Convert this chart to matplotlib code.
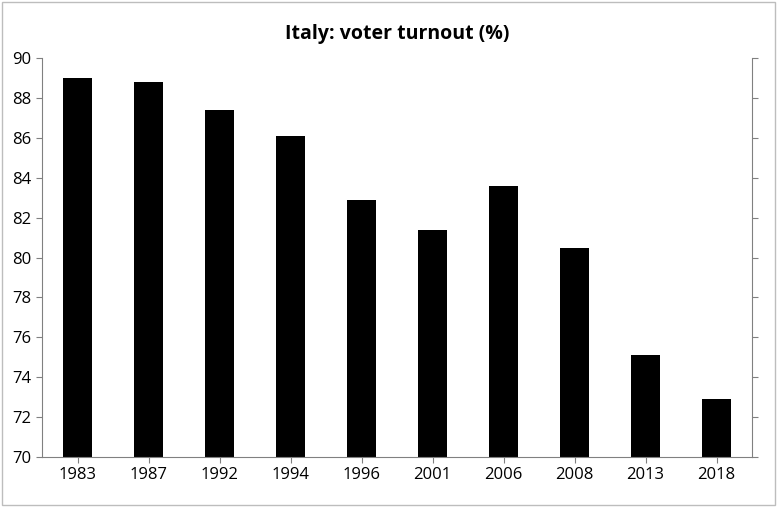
import matplotlib
matplotlib.use("Agg")
import matplotlib.pyplot as plt

years = ["1983", "1987", "1992", "1994", "1996", "2001", "2006", "2008", "2013", "2018"]
turnout = [89.0, 88.8, 87.4, 86.1, 82.9, 81.4, 83.6, 80.5, 75.1, 72.9]
yticks = [70, 72, 74, 76, 78, 80, 82, 84, 86, 88, 90]

plt.rcParams["font.family"] = "Open Sans"
fig = plt.figure(figsize=(7.78, 5.07), dpi=100)
ax = fig.add_axes([42/778, 50/507, 710/778, 399/507])
x = range(len(years))
ax.bar(x, turnout, width=0.42, color="black")
ax.set_xlim(-0.5, len(years) - 0.5)
ax.set_ylim(70, 90)
ax.set_yticks(yticks)
ax.set_xticks(list(x))
ax.set_xticklabels(years)
ax.tick_params(axis="both", labelsize=12, direction="out", length=4, color="#808080")
ax.tick_params(axis="y", right=True)
for s in ax.spines.values():
    s.set_color("#808080")
ax.spines["top"].set_visible(False)
ax.set_title("Italy: voter turnout (%)", fontsize=14, fontweight="bold", pad=14)
fig.patches.append(plt.Rectangle((0.002, 0.004), 0.994, 0.992, transform=fig.transFigure,
                                  fill=False, edgecolor="#bdbdbd", linewidth=1))
fig.savefig("out.png", dpi=100)
